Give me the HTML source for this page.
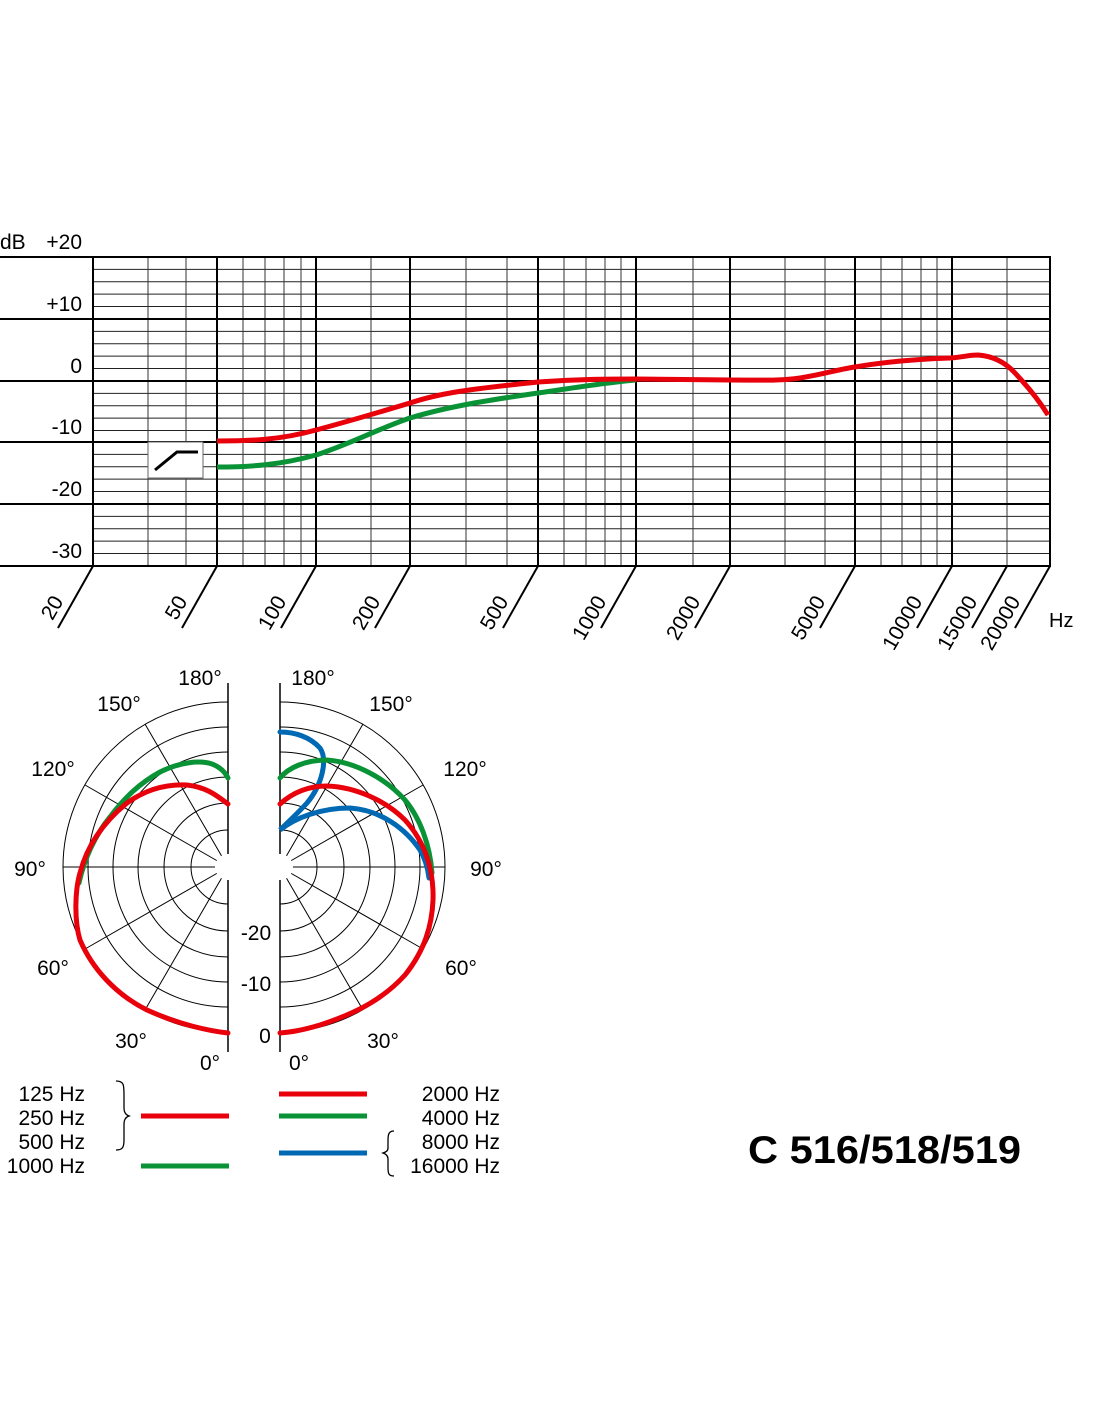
<!DOCTYPE html>
<html><head><meta charset="utf-8"><style>
html,body{margin:0;padding:0;background:#fff;}
svg{display:block;font-family:"Liberation Sans",Arial,sans-serif;}
</style></head><body>
<svg width="1100" height="1422" viewBox="0 0 1100 1422" xmlns="http://www.w3.org/2000/svg">
<g stroke="#222" stroke-width="1">
<line x1="93" y1="269.4" x2="1050" y2="269.4"/><line x1="93" y1="281.7" x2="1050" y2="281.7"/><line x1="93" y1="294.1" x2="1050" y2="294.1"/><line x1="93" y1="306.5" x2="1050" y2="306.5"/>
<line x1="93" y1="331.4" x2="1050" y2="331.4"/><line x1="93" y1="343.7" x2="1050" y2="343.7"/><line x1="93" y1="356.1" x2="1050" y2="356.1"/><line x1="93" y1="368.5" x2="1050" y2="368.5"/>
<line x1="93" y1="393.4" x2="1050" y2="393.4"/><line x1="93" y1="405.7" x2="1050" y2="405.7"/><line x1="93" y1="418.1" x2="1050" y2="418.1"/><line x1="93" y1="430.5" x2="1050" y2="430.5"/>
<line x1="93" y1="454.4" x2="1050" y2="454.4"/><line x1="93" y1="466.7" x2="1050" y2="466.7"/><line x1="93" y1="479.1" x2="1050" y2="479.1"/><line x1="93" y1="491.5" x2="1050" y2="491.5"/>
<line x1="93" y1="516.4" x2="1050" y2="516.4"/><line x1="93" y1="528.7" x2="1050" y2="528.7"/><line x1="93" y1="541.1" x2="1050" y2="541.1"/><line x1="93" y1="553.5" x2="1050" y2="553.5"/>
</g>
<g stroke="#333" stroke-width="1">
<line x1="148" y1="257" x2="148" y2="566"/><line x1="186" y1="257" x2="186" y2="566"/>
<line x1="243" y1="257" x2="243" y2="566"/><line x1="265" y1="257" x2="265" y2="566"/><line x1="284" y1="257" x2="284" y2="566"/><line x1="301" y1="257" x2="301" y2="566"/>
<line x1="371" y1="257" x2="371" y2="566"/>
<line x1="466" y1="257" x2="466" y2="566"/><line x1="507" y1="257" x2="507" y2="566"/>
<line x1="564" y1="257" x2="564" y2="566"/><line x1="586" y1="257" x2="586" y2="566"/><line x1="605" y1="257" x2="605" y2="566"/><line x1="621" y1="257" x2="621" y2="566"/>
<line x1="693" y1="257" x2="693" y2="566"/>
<line x1="785" y1="257" x2="785" y2="566"/><line x1="825" y1="257" x2="825" y2="566"/>
<line x1="881" y1="257" x2="881" y2="566"/><line x1="902" y1="257" x2="902" y2="566"/><line x1="921" y1="257" x2="921" y2="566"/><line x1="937" y1="257" x2="937" y2="566"/>
<line x1="1007" y1="257" x2="1007" y2="566"/>
</g>
<g stroke="#000" stroke-width="2">
<line x1="0" y1="257" x2="1051" y2="257"/><line x1="0" y1="319" x2="1051" y2="319"/><line x1="0" y1="381" x2="1051" y2="381"/><line x1="0" y1="442" x2="1051" y2="442"/><line x1="0" y1="504" x2="1051" y2="504"/><line x1="0" y1="566" x2="1051" y2="566"/>
<line x1="93" y1="257" x2="93" y2="566"/><line x1="217" y1="257" x2="217" y2="566"/><line x1="316" y1="257" x2="316" y2="566"/><line x1="410" y1="257" x2="410" y2="566"/><line x1="538" y1="257" x2="538" y2="566"/><line x1="636" y1="257" x2="636" y2="566"/><line x1="730" y1="257" x2="730" y2="566"/><line x1="855" y1="257" x2="855" y2="566"/><line x1="952" y1="257" x2="952" y2="566"/><line x1="1050" y1="257" x2="1050" y2="566"/>
<line x1="93" y1="566" x2="58" y2="628"/><line x1="217" y1="566" x2="182" y2="628"/><line x1="316" y1="566" x2="281" y2="628"/><line x1="410" y1="566" x2="375" y2="628"/><line x1="538" y1="566" x2="503" y2="628"/><line x1="636" y1="566" x2="601" y2="628"/><line x1="730" y1="566" x2="695" y2="628"/><line x1="855" y1="566" x2="820" y2="628"/><line x1="952" y1="566" x2="917" y2="628"/><line x1="1007" y1="566" x2="972" y2="628"/><line x1="1050" y1="566" x2="1015" y2="628"/>
</g>
<rect x="148" y="442" width="55" height="36" fill="#fff" stroke="#666" stroke-width="1"/>
<polyline points="155,470 177,452 198,452" fill="none" stroke="#000" stroke-width="3"/>
<g font-size="21" text-anchor="end" fill="#000">
<text x="82" y="249">+20</text><text x="82" y="311">+10</text><text x="82" y="373">0</text><text x="82" y="434">-10</text><text x="82" y="496">-20</text><text x="82" y="558">-30</text>
</g>
<text x="0" y="249" font-size="21">dB</text>
<text x="1049" y="627" font-size="20">Hz</text>
<g font-size="21" text-anchor="end">
<text transform="translate(64,601) rotate(-60)">20</text>
<text transform="translate(188,601) rotate(-60)">50</text>
<text transform="translate(287,601) rotate(-60)">100</text>
<text transform="translate(381,601) rotate(-60)">200</text>
<text transform="translate(509,601) rotate(-60)">500</text>
<text transform="translate(607,601) rotate(-60)">1000</text>
<text transform="translate(701,601) rotate(-60)">2000</text>
<text transform="translate(826,601) rotate(-60)">5000</text>
<text transform="translate(923,601) rotate(-60)">10000</text>
<text transform="translate(978,601) rotate(-60)">15000</text>
<text transform="translate(1021,601) rotate(-60)">20000</text>
</g>
<path d="M217,467 C250,467 280,465 316,455 C350,444 380,428 410,418 C450,406 490,400 538,393 C580,387 610,382 636,380" fill="none" stroke="#0a9336" stroke-width="5"/>
<path d="M217,441 C250,441 280,440 316,430 C350,421 380,412 410,403 C440,393 470,389 538,382 C580,379 610,379 636,379 L730,380 C760,380 780,381 800,378 C825,374 840,369 855,367 C890,361 920,359 950,358 C965,357 968,355 978,355 C992,356 1005,362 1015,373 C1030,389 1040,402 1048,415" fill="none" stroke="#e8000b" stroke-width="5"/>
<g fill="none" stroke="#000" stroke-width="1">
<path d="M228,702 A165,165 0 0 0 228,1032"/><path d="M228,727 A140,140 0 0 0 228,1007"/><path d="M228,752 A115,115 0 0 0 228,982"/><path d="M228,777 A90,90 0 0 0 228,957"/><path d="M228,803 A64,64 0 0 0 228,931"/><path d="M228,830 A37,37 0 0 0 228,904"/>
<path d="M280,702 A165,165 0 0 1 280,1032"/><path d="M280,727 A140,140 0 0 1 280,1007"/><path d="M280,752 A115,115 0 0 1 280,982"/><path d="M280,777 A90,90 0 0 1 280,957"/><path d="M280,803 A64,64 0 0 1 280,931"/><path d="M280,830 A37,37 0 0 1 280,904"/>
<line x1="228" y1="867" x2="63" y2="867"/><line x1="228" y1="867" x2="85" y2="785"/><line x1="228" y1="867" x2="145" y2="724"/><line x1="228" y1="867" x2="85" y2="949"/><line x1="228" y1="867" x2="145" y2="1010"/>
<line x1="280" y1="867" x2="445" y2="867"/><line x1="280" y1="867" x2="423" y2="785"/><line x1="280" y1="867" x2="363" y2="724"/><line x1="280" y1="867" x2="423" y2="949"/><line x1="280" y1="867" x2="363" y2="1010"/>
</g>
<circle cx="228" cy="867" r="13" fill="#fff"/><circle cx="280" cy="867" r="13" fill="#fff"/>
<g stroke="#000" stroke-width="1.5"><line x1="228" y1="683" x2="228" y2="854"/><line x1="228" y1="880" x2="228" y2="1052"/><line x1="280" y1="683" x2="280" y2="854"/><line x1="280" y1="880" x2="280" y2="1052"/></g>
<g fill="none" stroke-width="5" stroke-linecap="round">
<path d="M79,883 C84,860 95,835 110,817 C125,797 140,783 160,772 C180,762 200,760 212,764 C220,767 225,772 228,778" stroke="#0a9336"/>
<path d="M228,1033 C210,1031 180,1025 147,1010 C115,994 92,968 80,940 C74,920 75,890 80,873 C86,850 100,825 127,803 C145,790 165,784 187,785 C205,787 215,794 228,804" stroke="#e8000b"/>
<path d="M280,732 C295,732 310,737 320,748 C328,760 322,785 307,803 C298,813 288,822 280,830 C295,818 320,808 350,808 C380,810 405,828 420,850 C426,860 428,870 429,878" stroke="#0069b4"/>
<path d="M280,778 C288,768 305,760 327,760 C355,762 385,778 405,800 C420,818 430,845 432,873" stroke="#0a9336"/>
<path d="M280,804 C290,795 305,786 327,786 C355,787 385,800 405,820 C425,842 434,870 433,900 C432,925 425,950 405,975 C385,997 360,1012 320,1025 C300,1031 290,1032 280,1033" stroke="#e8000b"/>
</g>
<g font-size="21" text-anchor="middle">
<text x="200" y="685">180°</text><text x="313" y="685">180°</text>
<text x="119" y="711">150°</text><text x="391" y="711">150°</text>
<text x="53" y="776">120°</text><text x="465" y="776">120°</text>
<text x="30" y="876">90°</text><text x="486" y="876">90°</text>
<text x="53" y="975">60°</text><text x="461" y="975">60°</text>
<text x="131" y="1048">30°</text><text x="383" y="1048">30°</text>
<text x="210" y="1070">0°</text><text x="299" y="1070">0°</text>
<text x="256" y="940">-20</text><text x="256" y="991">-10</text><text x="265" y="1043">0</text>
</g>
<g font-size="21">
<g text-anchor="end"><text x="85" y="1101">125 Hz</text><text x="85" y="1125">250 Hz</text><text x="85" y="1149">500 Hz</text><text x="85" y="1173">1000 Hz</text>
<text x="500" y="1101">2000 Hz</text><text x="500" y="1125">4000 Hz</text><text x="500" y="1149">8000 Hz</text><text x="500" y="1173">16000 Hz</text></g>
</g>
<path d="M116,1081 C124,1081 124,1085 124,1095 L124,1108 C124,1113 126,1115 129,1116 C126,1117 124,1119 124,1124 L124,1140 C124,1148 122,1150 116,1150" fill="none" stroke="#000" stroke-width="1.3"/>
<path d="M394,1131 C389,1131 388,1134 388,1140 L388,1148 C388,1151 386,1152 383,1153 C386,1154 388,1156 388,1159 L388,1168 C388,1174 389,1176 394,1176" fill="none" stroke="#000" stroke-width="1.3"/>
<g stroke-width="5">
<line x1="141" y1="1116" x2="229" y2="1116" stroke="#e8000b"/><line x1="141" y1="1166" x2="229" y2="1166" stroke="#0a9336"/>
<line x1="279" y1="1094" x2="367" y2="1094" stroke="#e8000b"/><line x1="279" y1="1116" x2="367" y2="1116" stroke="#0a9336"/><line x1="279" y1="1153" x2="367" y2="1153" stroke="#0069b4"/>
</g>
<text x="748" y="1163" font-size="39" font-weight="bold" textLength="273" lengthAdjust="spacingAndGlyphs">C 516/518/519</text>
</svg>
</body></html>
